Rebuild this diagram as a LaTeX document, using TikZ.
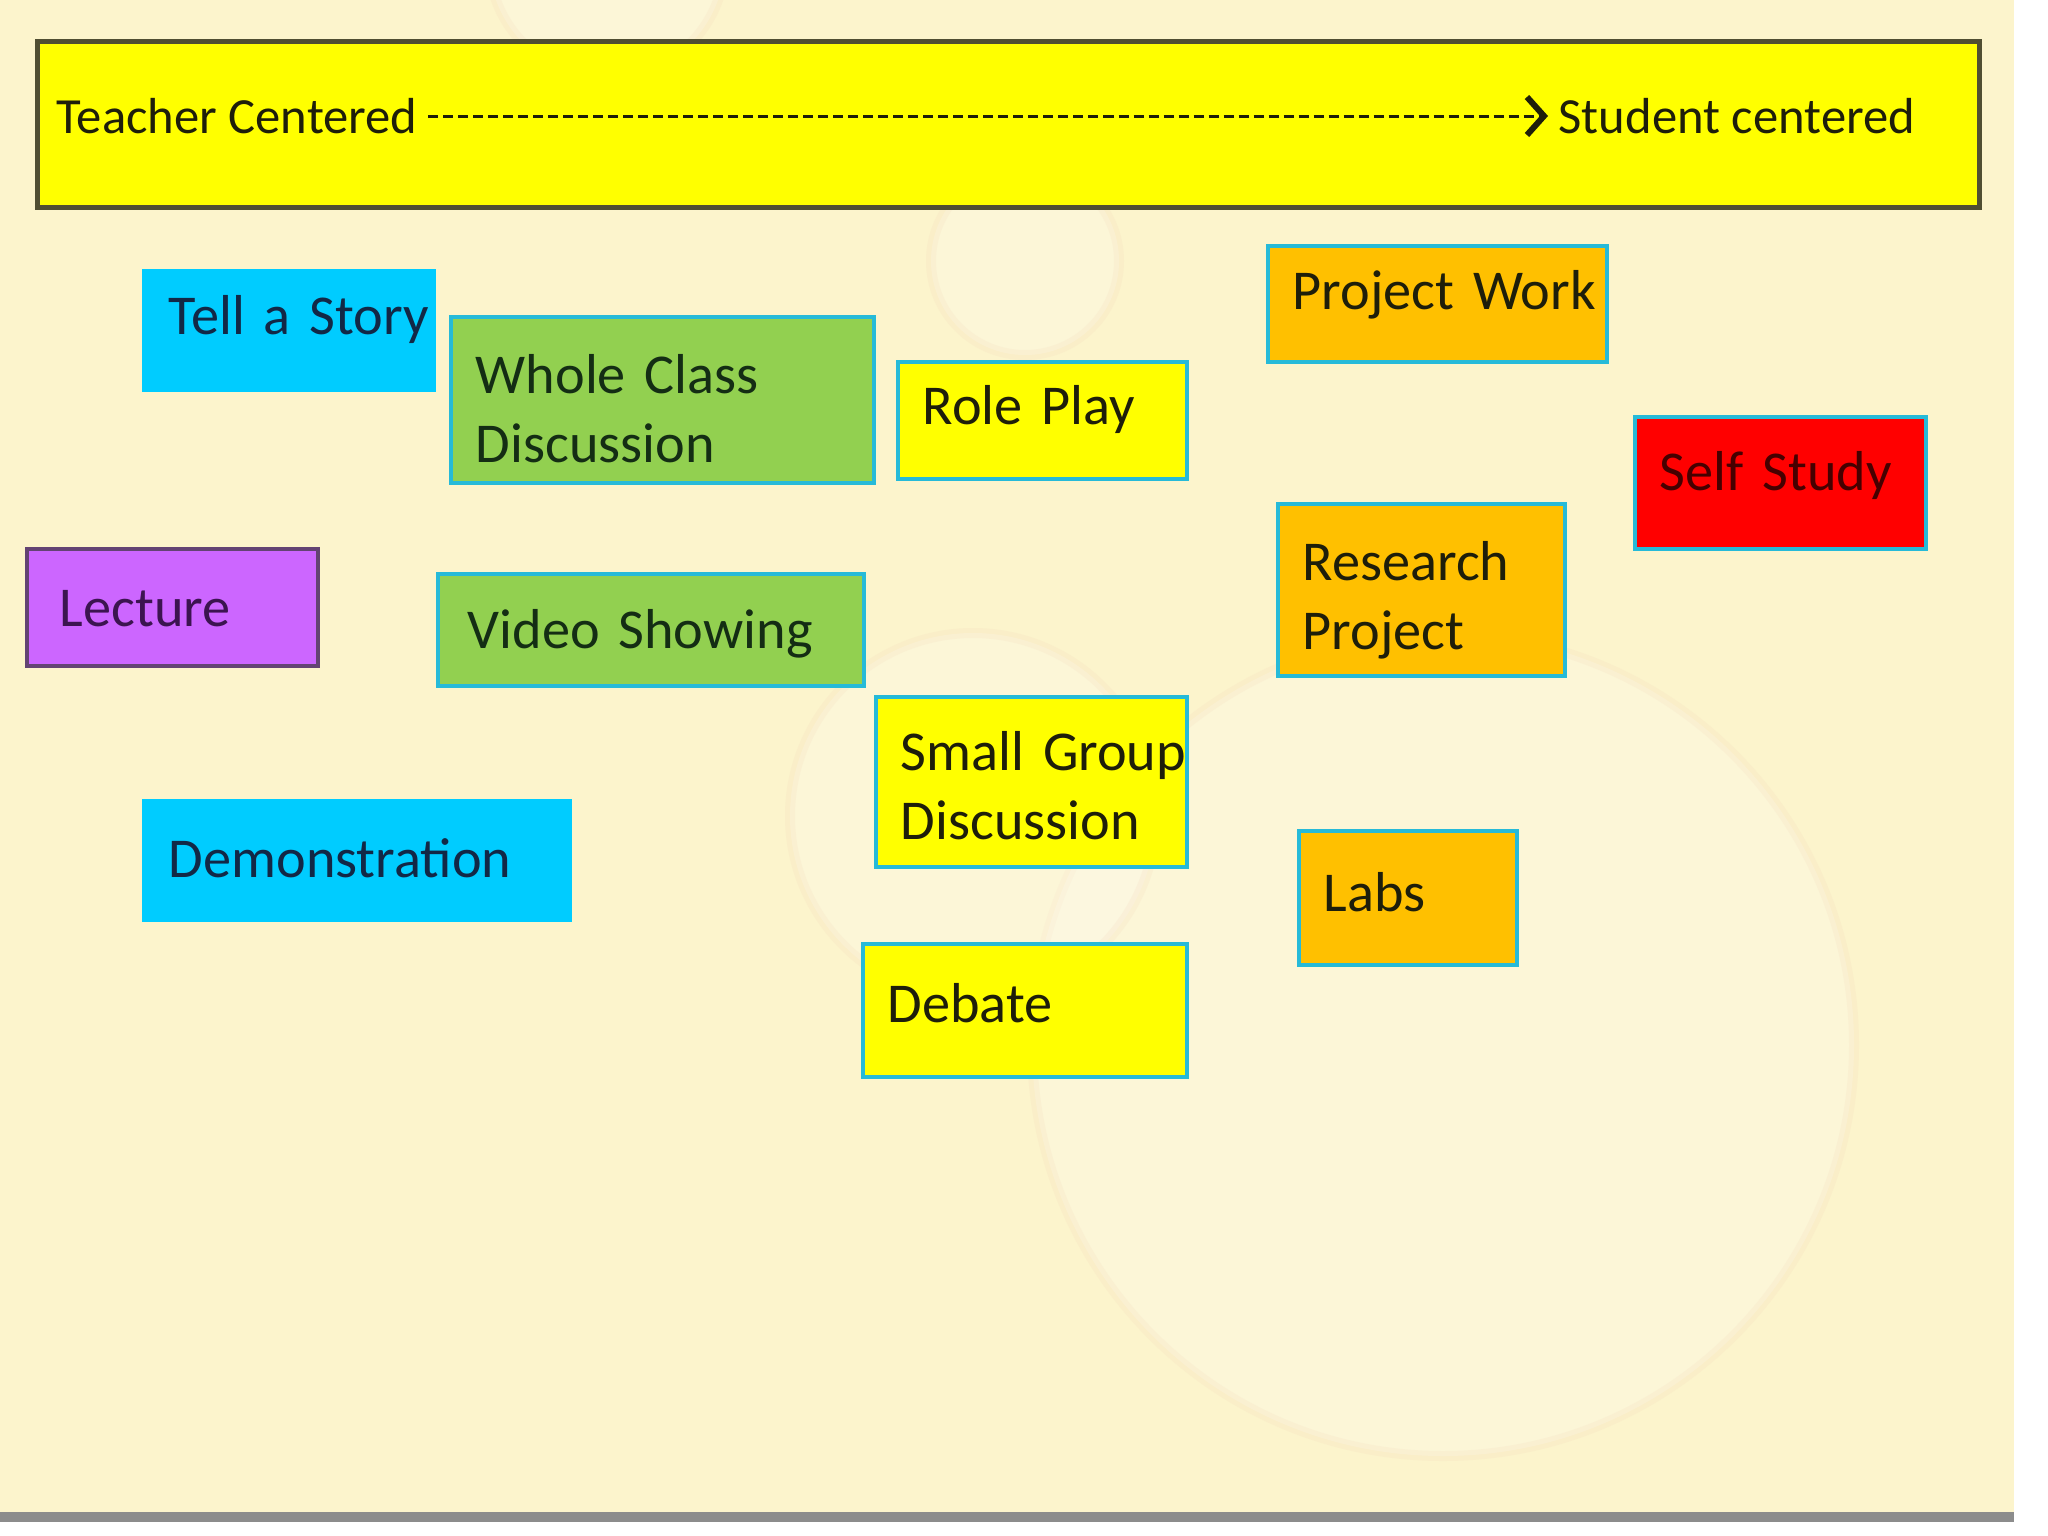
\documentclass[tikz,border=0pt]{standalone}
\usepackage{fontspec}
\setmainfont{Carlito}
\usetikzlibrary{arrows.meta}

\definecolor{paper}{RGB}{252,244,204}
\definecolor{edge}{RGB}{38,186,216}
\definecolor{sky}{RGB}{0,204,255}
\definecolor{leaf}{RGB}{146,208,80}
\definecolor{lemon}{RGB}{255,255,0}
\definecolor{amber}{RGB}{255,192,0}
\definecolor{scarlet}{RGB}{255,0,0}
\definecolor{violet}{RGB}{204,102,255}
\definecolor{barline}{RGB}{80,78,50}
\definecolor{bubble}{RGB}{238,200,175}
\definecolor{navyink}{RGB}{18,40,70}
\definecolor{leafink}{RGB}{20,45,20}
\definecolor{ink}{RGB}{30,30,10}
\definecolor{violetink}{RGB}{60,20,80}
\definecolor{scarletink}{RGB}{70,0,0}

\tikzset{
  card/.style={anchor=north west, draw=edge, line width=0.35mm, inner xsep=2.5mm,
    inner ysep=0pt, align=left, text height=3.8mm, font=\fontsize{16}{19.5}\selectfont},
  bartext/.style={anchor=west, inner sep=1mm, font=\fontsize{14.4}{17}\selectfont, text=ink}
}

\begin{document}
\begin{tikzpicture}[x=0.01cm, y=-0.01cm]
  \useasboundingbox (0,0) rectangle (2048,1536);
  \fill[white] (0,0) rectangle (2048,1536);
  \fill[paper] (0,0) rectangle (2014,1512);
  \fill[black!45] (0,1512) rectangle (2014,1522);
  % bubbles in the backdrop
  \begin{scope}
    \clip (0,0) rectangle (2014,1512);
    \foreach \cx/\cy/\r in {1443/1045/411, 973/816/183, 1025/261/94, 607/-40/118}
      \draw[bubble, line width=1mm, draw opacity=0.13, fill=white, fill opacity=0.22] (\cx,\cy) circle (\r);
  \end{scope}

  % scale bar
  \node[anchor=north west, draw=barline, fill=lemon, line width=0.45mm, inner sep=0pt,
    minimum width=194.1mm, minimum height=16.6mm] (bar) at (35,39) {};
  \node[bartext] (tc) at (46,116) {Teacher Centered};
  \node[bartext] (sc) at (1548,116) {Student centered};
  \draw[ink, dash pattern=on 1mm off 0.5mm, line width=0.3mm,
    -{Straight Barb[length=1.7mm, width=3.8mm, line width=0.6mm]}] (tc) -- (sc);

  % methods
  \node[card, draw=sky, fill=sky, text=navyink, text width=24mm, minimum height=11.9mm, text depth=3mm] (story) at (142,269) {Tell~a~Story};
  \node[card, fill=leaf, text=leafink, text width=37.3mm, minimum height=16.6mm, text depth=5mm] (whole) at (449,315) {Whole Class\\Discussion};
  \node[card, fill=lemon, text=ink, text width=23.9mm, minimum height=11.7mm, text depth=3mm] (role) at (896,360) {Role~Play};
  \node[card, fill=amber, text=ink, text width=28.9mm, minimum height=11.6mm, text depth=2.6mm] (project) at (1266,244) {Project~Work};
  \node[card, fill=scarlet, text=scarletink, text width=24.1mm, minimum height=13.2mm, text depth=2.2mm] (self) at (1633,415) {Self~Study};
  \node[card, draw=violetink!80, fill=violet, text=violetink, inner xsep=3.3mm, text width=22.5mm, minimum height=11.7mm, text depth=0mm] (lecture) at (25,547) {Lecture};
  \node[card, fill=leaf, text=leafink, inner xsep=3mm, text width=36.6mm, minimum height=11.2mm, text depth=0mm] (video) at (436,572) {Video~Showing};
  \node[card, fill=amber, text=ink, text width=23.7mm, minimum height=17.2mm, text depth=5.6mm] (research) at (1276,502) {Research\\Project};
  \node[card, fill=lemon, text=ink, text width=26.1mm, minimum height=17mm, text depth=6mm] (small) at (874,695) {Small~Group\\Discussion};
  \node[card, draw=sky, fill=sky, text=navyink, text width=37.6mm, minimum height=11.9mm, text depth=0.4mm] (demo) at (142,799) {Demonstration};
  \node[card, fill=amber, text=ink, text width=16.8mm, minimum height=13.4mm, text depth=1mm] (labs) at (1297,829) {Labs};
  \node[card, fill=lemon, text=ink, text width=27.4mm, minimum height=13.3mm, text depth=1.4mm] (debate) at (861,942) {Debate};
\end{tikzpicture}
\end{document}
